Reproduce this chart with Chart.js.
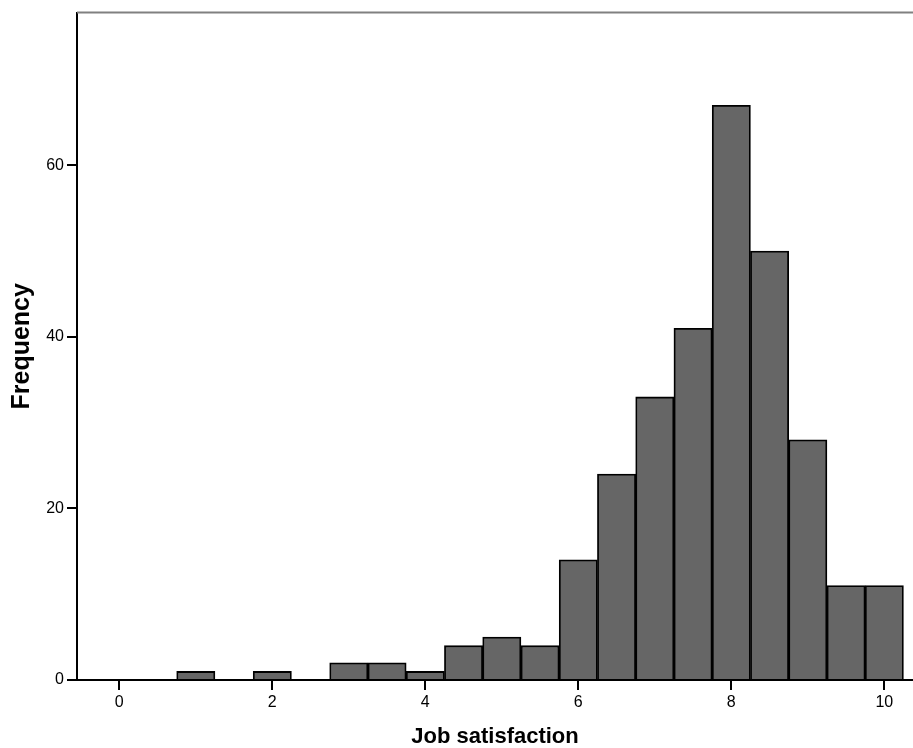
<!DOCTYPE html>
<html>
<head>
<meta charset="utf-8">
<script src="https://cdn.jsdelivr.net/npm/chart.js@4/dist/chart.umd.min.js"></script>
<style>
  body { margin: 0; background: #fff; }
  canvas { display: block; }
</style>
</head>
<body>
<canvas id="hist" width="913" height="748"></canvas>
<script>
// histogram bins (centre of each 0.5 wide bin) and counts
const binCenters = [1.0, 2.0, 3.0, 3.5, 4.0, 4.5, 5.0, 5.5, 6.0, 6.5, 7.0, 7.5, 8.0, 8.5, 9.0, 9.5, 10.0];
const frequencies = [1, 1, 2, 2, 1, 4, 5, 4, 14, 24, 33, 41, 67, 50, 28, 11, 11];
const xTicks = [0, 2, 4, 6, 8, 10];
const yTicks = [0, 20, 40, 60];

const fontFamily = '"Liberation Sans", Arial, Helvetica, sans-serif';

// thin grey frame line along the top of the plot
const topLine = {
    id: 'topLine',
    afterDraw(chart) {
        const { ctx, chartArea } = chart;
        ctx.save();
        ctx.strokeStyle = '#808080';
        ctx.lineWidth = 2;
        ctx.beginPath();
        ctx.moveTo(chartArea.left, chartArea.top);
        ctx.lineTo(chartArea.right, chartArea.top);
        ctx.stroke();
        ctx.restore();
    }
};

let ctx = document.getElementById('hist');
let chart = new Chart(ctx, {
    type: 'bar',
    data: {
        datasets: [{
            data: binCenters.map((x, i) => ({ x: x, y: frequencies[i] })),
            backgroundColor: '#666666',
            borderColor: '#000000',
            borderWidth: 1.8,
            barPercentage: 1,
            categoryPercentage: 1
        }]
    },
    options: {
        responsive: false,
        animation: false,
        layout: { padding: { top: 11, right: 0, left: 0, bottom: 0 } },
        plugins: { legend: { display: false }, tooltip: { enabled: false } },
        scales: {
            x: {
                type: 'linear',
                offset: false,
                min: -0.553,
                max: 10.375,
                afterBuildTicks: (scale) => { scale.ticks = xTicks.map(v => ({ value: v })); },
                afterFit: (scale) => { scale.height = 68; },
                grid: { offset: false, drawOnChartArea: false, drawTicks: true, tickLength: 10, color: '#000', lineWidth: 2 },
                border: { display: true, color: '#000', width: 2 },
                ticks: { color: '#000', padding: 3, maxRotation: 0, font: { family: fontFamily, size: 16 } },
                title: {
                    display: true,
                    text: 'Job satisfaction',
                    color: '#000',
                    padding: { top: 0, bottom: 0 },
                    font: { family: fontFamily, size: 22, weight: 'bold', lineHeight: 1 }
                }
            },
            y: {
                min: 0,
                max: 77.8,
                afterBuildTicks: (scale) => { scale.ticks = yTicks.map(v => ({ value: v })); },
                afterFit: (scale) => { scale.width = 77; },
                grid: { drawOnChartArea: false, drawTicks: true, tickLength: 10, color: '#000', lineWidth: 2 },
                border: { display: true, color: '#000', width: 2 },
                ticks: { color: '#000', padding: 3, font: { family: fontFamily, size: 16 } },
                title: {
                    display: true,
                    text: 'Frequency',
                    color: '#000',
                    padding: { top: 7, bottom: 0 },
                    font: { family: fontFamily, size: 25, weight: 'bold' }
                }
            }
        }
    },
    plugins: [topLine]
});
</script>
</body>
</html>
